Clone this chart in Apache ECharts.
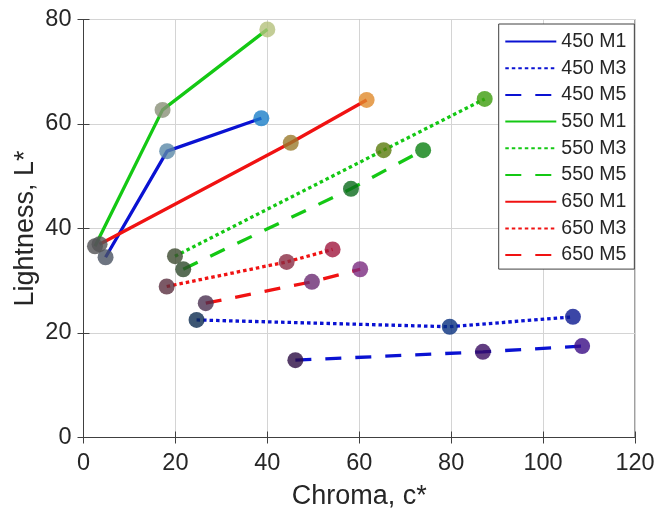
<!DOCTYPE html>
<html>
<head>
<meta charset="utf-8">
<script src="https://cdn.jsdelivr.net/npm/echarts@6/dist/echarts.min.js"></script>
<style>html,body{margin:0;padding:0;background:#fff;}#c{width:657px;height:511px;}</style>
</head>
<body>
<div id="c"></div>
<script>
// ---- data ----
const seriesNames = ['450 M1','450 M3','450 M5','550 M1','550 M3','550 M5','650 M1','650 M3','650 M5'];
const chroma450M1 = [4.8, 18.2, 38.7];
const light450M1  = [34.5, 54.8, 61.1];
const chroma450M3 = [24.6, 79.7, 106.5];
const light450M3  = [22.5, 21.2, 23.1];
const chroma450M5 = [46.1, 86.9, 108.5];
const light450M5  = [14.8, 16.4, 17.5];
const chroma550M1 = [2.5, 17.2, 40.0];
const light550M1  = [36.6, 62.7, 78.1];
const chroma550M3 = [19.9, 65.3, 87.3];
const light550M3  = [34.7, 55.0, 64.8];
const chroma550M5 = [21.7, 58.2, 73.9];
const light550M5  = [32.2, 47.6, 55.0];
const chroma650M1 = [3.5, 45.1, 61.6];
const light650M1  = [37.0, 56.4, 64.6];
const chroma650M3 = [18.1, 44.2, 54.2];
const light650M3  = [28.9, 33.6, 36.0];
const chroma650M5 = [26.6, 49.7, 60.2];
const light650M5  = [25.7, 29.8, 32.2];
const xTicks = [0, 20, 40, 60, 80, 100, 120];
const yTicks = [0, 20, 40, 60, 80];

// ---- styles ----
const lineColors = { '450': '#0a12d2', '550': '#14c814', '650': '#f01212' };
const dashTypes = { 'M1': 'solid', 'M3': [3.5, 3], 'M5': [16, 14] };
const pointColors = {
  '450 M1': ['#4a5262', '#5a88a8', '#1a7ec8'],
  '450 M3': ['#0c2c50', '#08307e', '#0a1890'],
  '450 M5': ['#2c0c44', '#3a0c62', '#3a0c84'],
  '550 M1': ['#505052', '#8a9078', '#b4c07c'],
  '550 M3': ['#3c4a30', '#5a7a0c', '#3c9c0c'],
  '550 M5': ['#2e482c', '#0a6a1c', '#0a8010'],
  '650 M1': ['#555557', '#9a7a2c', '#e08a2a'],
  '650 M3': ['#5a3040', '#8a2a42', '#a0183e'],
  '650 M5': ['#4a3050', '#6a2a72', '#7a2a80']
};
const seriesData = {
  '450 M1': [chroma450M1, light450M1],
  '450 M3': [chroma450M3, light450M3],
  '450 M5': [chroma450M5, light450M5],
  '550 M1': [chroma550M1, light550M1],
  '550 M3': [chroma550M3, light550M3],
  '550 M5': [chroma550M5, light550M5],
  '650 M1': [chroma650M1, light650M1],
  '650 M3': [chroma650M3, light650M3],
  '650 M5': [chroma650M5, light650M5]
};

const FONT = "'Liberation Sans', Arial, sans-serif";
const TXT = '#262626';

const lineSeries = seriesNames.map(name => {
  const [w, m] = name.split(' ');
  const [xs, ys] = seriesData[name];
  return {
    name: name,
    type: 'line',
    symbol: 'none',
    z: 2,
    lineStyle: { color: lineColors[w], width: 3.3, type: dashTypes[m], cap: 'butt' },
    itemStyle: { color: lineColors[w] },
    data: xs.map((x, i) => [x, ys[i]])
  };
});
const pointSeries = seriesNames.map(name => {
  const [xs, ys] = seriesData[name];
  return {
    name: name + ' pts',
    type: 'scatter',
    symbol: 'circle',
    symbolSize: 16,
    z: 3,
    data: xs.map((x, i) => ({ value: [x, ys[i]], itemStyle: { color: pointColors[name][i] } }))
  };
});

const chart = echarts.init(document.getElementById('c'), null, { renderer: 'canvas' });
chart.setOption({
  animation: false,
  backgroundColor: '#fff',
  textStyle: { fontFamily: FONT },
  grid: { left: 83.5, top: 19.5, width: 551.5, height: 418, containLabel: false, outerBoundsMode: 'none', show: true, borderColor: '#404040', borderWidth: 1, backgroundColor: 'transparent' },
  legend: {
    data: seriesNames,
    orient: 'vertical',
    left: 498.7,
    top: 24,
    padding: [7.5, 8, 4, 5.6],
    itemWidth: 51,
    itemHeight: 14,
    itemGap: 6.7,
    itemTextGap: 4.3,
    backgroundColor: '#fff',
    borderColor: '#404040',
    borderWidth: 1,
    borderRadius: 0,
    itemStyle: { opacity: 0 },
    textStyle: { fontFamily: FONT, fontSize: 19.5, color: TXT, lineHeight: 20 }
  },
  xAxis: [{
    type: 'value', min: xTicks[0], max: xTicks[xTicks.length - 1], interval: 20,
    name: 'Chroma, c*', nameLocation: 'middle', nameGap: 46, nameMoveOverlap: false,
    nameTextStyle: { fontFamily: FONT, fontSize: 27, color: TXT },
    axisLine: { show: true, onZero: false, lineStyle: { color: '#404040', width: 1 } },
    axisTick: { show: true, inside: true, length: 6, lineStyle: { color: '#404040' } },
    axisLabel: { fontFamily: FONT, fontSize: 23.5, color: TXT, margin: 14 },
    splitLine: { show: true, lineStyle: { color: '#d4d4d4', width: 1 } }
  }, {
    type: 'value', position: 'top', min: 0, max: 120, interval: 20,
    axisLine: { show: true, lineStyle: { color: '#404040' } },
    axisTick: { show: true, inside: true, length: 6, lineStyle: { color: '#404040' } },
    axisLabel: { show: false }, splitLine: { show: false }
  }],
  yAxis: [{
    type: 'value', min: yTicks[0], max: yTicks[yTicks.length - 1], interval: 20,
    name: 'Lightness, L*', nameLocation: 'middle', nameGap: 44, nameRotate: 90, nameMoveOverlap: false,
    nameTextStyle: { fontFamily: FONT, fontSize: 27, color: TXT },
    axisLine: { show: true, onZero: false, lineStyle: { color: '#404040', width: 1 } },
    axisTick: { show: true, inside: true, length: 6, lineStyle: { color: '#404040' } },
    axisLabel: { fontFamily: FONT, fontSize: 23.5, color: TXT, margin: 12 },
    splitLine: { show: true, lineStyle: { color: '#d4d4d4', width: 1 } }
  }, {
    type: 'value', position: 'right', min: 0, max: 80, interval: 20,
    axisLine: { show: true, lineStyle: { color: '#404040' } },
    axisTick: { show: true, inside: true, length: 6, lineStyle: { color: '#404040' } },
    axisLabel: { show: false }, splitLine: { show: false }
  }],
  series: lineSeries.concat(pointSeries)
});
</script>
</body>
</html>
